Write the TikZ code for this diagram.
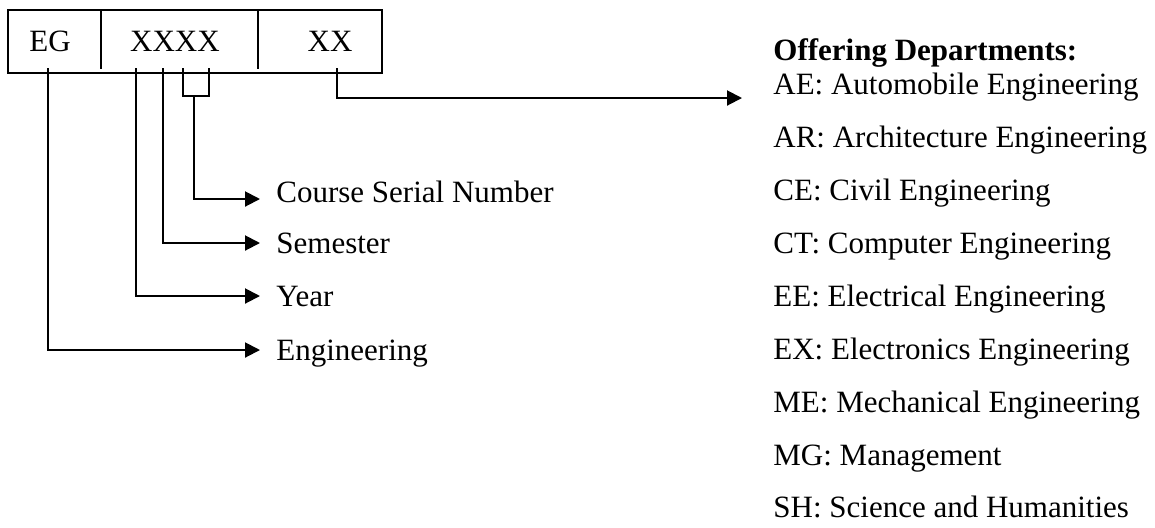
\documentclass[tikz,border=0pt]{standalone}
\usepackage{fontspec}
\setmainfont{Liberation Serif}
\usepackage{tikz}
\usetikzlibrary{arrows.meta}

\tikzset{
	txt/.style={inner sep=0pt, font=\fontsize{15.5}{18}\selectfont, text height=10pt, text depth=0pt},
	lbl/.style={txt, anchor=west},
	wire/.style={line width=1pt},
	arr/.style={wire, -{Triangle[length=7.5pt, width=7.5pt]}, shorten >=8pt}
}

\begin{document}
\begin{tikzpicture}[x=0.5pt, y=-0.5pt]
	\useasboundingbox (0, 0) rectangle (1155, 527);
	% Code box:
	\node[draw, wire, inner sep=0, minimum width=187pt, minimum height=31.5pt] (Box1) at (195, 41.5) {};
	\draw[wire] (101, 10) -- (101, 69);
	\draw[wire] (258, 10) -- (258, 69);
	\node[txt] (T1) at (50, 41) {EG};
	\node[txt] (T2) at (175, 41) {XXXX};
	\node[txt] (T3) at (330, 41) {XX};
	% Labels:
	\node[lbl] (L1) at (276, 192) {Course Serial Number};
	\node[lbl] (L2) at (276, 243) {Semester};
	\node[lbl] (L3) at (276, 296) {Year};
	\node[lbl] (L4) at (276, 350) {Engineering};
	\node[lbl, font=\fontsize{15.5}{18}\selectfont\bfseries] (H1) at (773, 50) {Offering Departments:};
	\node[lbl] (D1) at (773, 84) {AE: Automobile Engineering};
	\node[lbl] (D2) at (773, 137) {AR: Architecture Engineering};
	\node[lbl] (D3) at (773, 190) {CE: Civil Engineering};
	\node[lbl] (D4) at (773, 243) {CT: Computer Engineering};
	\node[lbl] (D5) at (773, 296) {EE: Electrical Engineering};
	\node[lbl] (D6) at (773, 349) {EX: Electronics Engineering};
	\node[lbl] (D7) at (773, 402) {ME: Mechanical Engineering};
	\node[lbl] (D8) at (773, 455) {MG: Management};
	\node[lbl] (D9) at (773, 507) {SH: Science and Humanities};
	% Wires:
	\coordinate (S1) at (48, 68);
	\coordinate (S2) at (136, 68);
	\coordinate (S3) at (163, 68);
	\coordinate (S4) at (183, 68);
	\coordinate (S5) at (209, 68);
	\coordinate (S6) at (337, 68);
	\coordinate (B1) at (194, 96);
	\coordinate (Tip1) at (742, 98);
	\draw[wire] (S4) |- (B1) -| (S5);
	\draw[arr] (B1) |- ([yshift=-3.5pt]L1.west);
	\draw[arr] (S3) |- (L2.west);
	\draw[arr] (S2) |- (L3.west);
	\draw[arr] (S1) |- (L4.west);
	\draw[arr, shorten >=0pt] (S6) |- (Tip1);
\end{tikzpicture}
\end{document}
